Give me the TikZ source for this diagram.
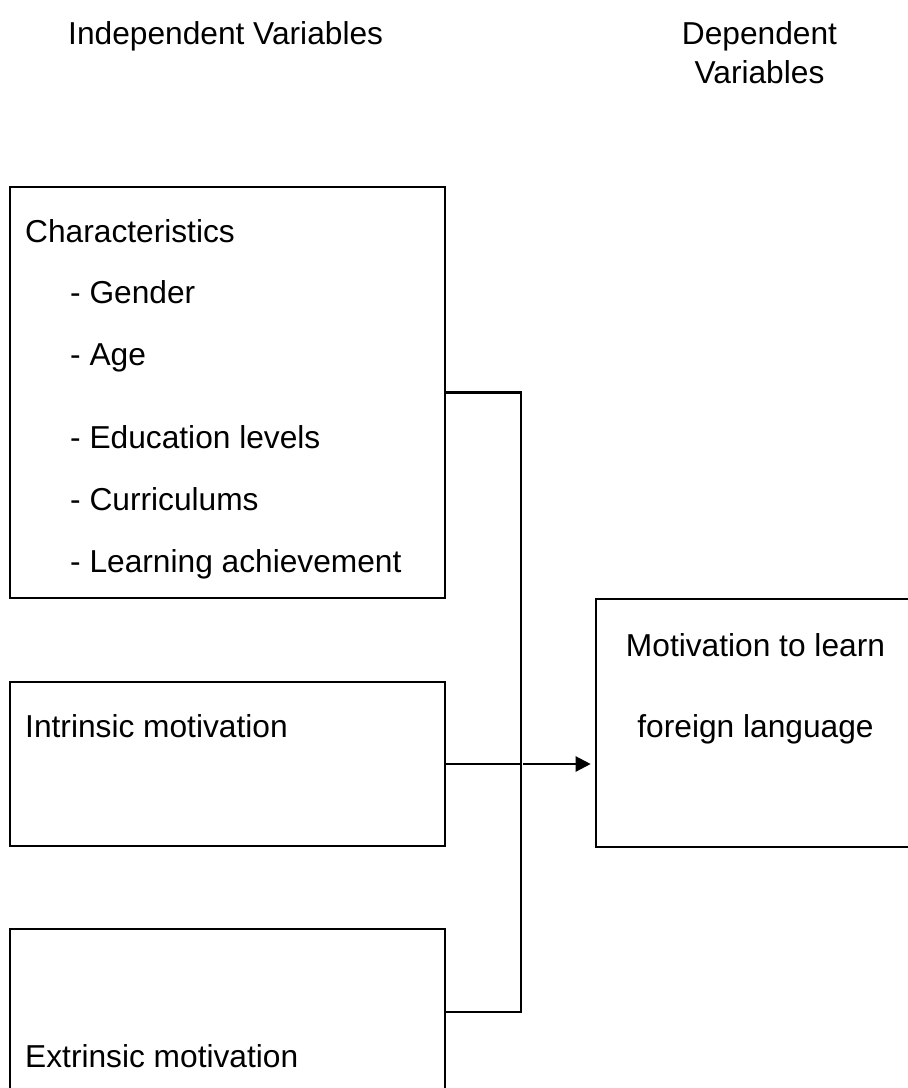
\documentclass[tikz,border=0pt]{standalone}
\usepackage{fontspec}
\setmainfont{Liberation Sans}
\usetikzlibrary{arrows.meta}
\begin{document}
\begin{tikzpicture}[x=1pt,y=-1pt,
  box/.style={draw=black, line width=2.6pt, inner sep=0pt, fill=none},
  txt/.style={inner sep=0pt, anchor=base west, font=\fontsize{31.7}{38}\selectfont},
  ctxt/.style={inner sep=0pt, anchor=base, font=\fontsize{31.7}{38}\selectfont},
  conn/.style={draw=black, line width=2.4pt},
  arr/.style={conn, -{Triangle[length=15pt,width=15pt]}, shorten >=4pt}]
\useasboundingbox[fill=white] (0,0) rectangle (908,1088);
\clip (0,0) rectangle (908,1088);
% headings
\node[txt] (hind) at (68,44) {Independent Variables};
\node[ctxt] (hdep1) at (759.5,44) {Dependent};
\node[ctxt] (hdep2) at (759.5,83) {Variables};
% boxes
\node[box, minimum width=435pt, minimum height=411pt] (b1) at (227.5,392.5) {};
\node[box, minimum width=435pt, minimum height=164pt] (b2) at (227.5,764) {};
\node[box, minimum width=435pt, minimum height=166pt] (b3) at (227.5,1012) {};
\node[box, minimum width=330pt, minimum height=248pt] (b4) at (761,723) {};
% texts
\node[txt] (t1) at (25,242) {Characteristics};
\node[txt] (t2) at (70,303) {- Gender};
\node[txt] (t3) at (70,365) {- Age};
\node[txt] (t4) at (70,448) {- Education levels};
\node[txt] (t5) at (70,510) {- Curriculums};
\node[txt] (t6) at (70,572) {- Learning achievement};
\node[txt] (t7) at (25,737) {Intrinsic motivation};
\node[txt] (t8) at (25,1067) {Extrinsic motivation};
\node[ctxt] (t9) at (755.5,656) {Motivation to learn};
\node[ctxt] (t10) at (755.5,737) {foreign language};
% connectors
\coordinate (j) at (521,764);
\draw[conn] (b1.east) -- (b1.east -| j) -- (b3.east -| j) -- (b3.east);
\draw[conn] (b2.east) -- (j);
\draw[arr] ([xshift=2pt]j) -- (j -| b4.west);
\end{tikzpicture}
\end{document}
